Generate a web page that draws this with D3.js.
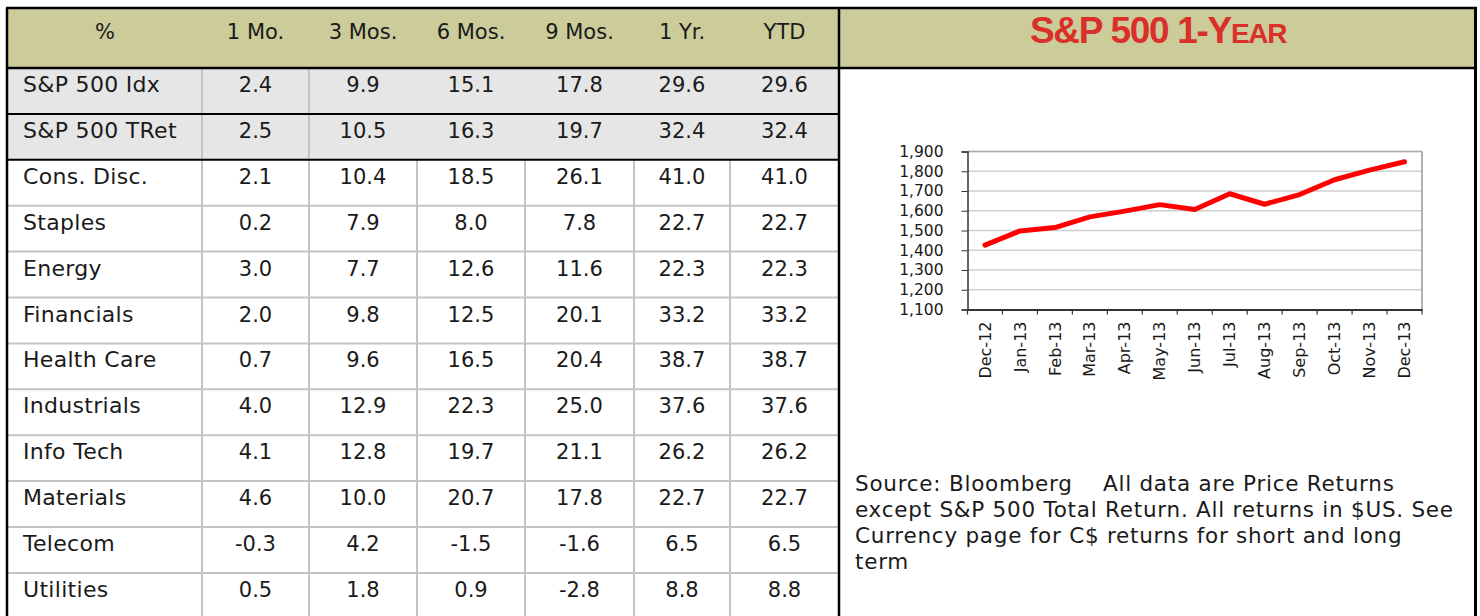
<!DOCTYPE html>
<html>
<head>
<meta charset="utf-8">
<script src="https://cdn.jsdelivr.net/npm/d3@7"></script>
<style>
  body { margin: 0; background: #fff; }
  svg text { font-family: "DejaVu Sans", Verdana, sans-serif; fill: #1a1a1a; }
</style>
</head>
<body>
<div id="viz"></div>
<script>
// table data
var columns = ["1 Mo.", "3 Mos.", "6 Mos.", "9 Mos.", "1 Yr.", "YTD"];
var sectors = ["S&P 500 Idx", "S&P 500 TRet", "Cons. Disc.", "Staples", "Energy", "Financials",
  "Health Care", "Industrials", "Info Tech", "Materials", "Telecom", "Utilities"];
var ret1Mo  = [2.4, 2.5, 2.1, 0.2, 3.0, 2.0, 0.7, 4.0, 4.1, 4.6, -0.3, 0.5];
var ret3Mos = [9.9, 10.5, 10.4, 7.9, 7.7, 9.8, 9.6, 12.9, 12.8, 10.0, 4.2, 1.8];
var ret6Mos = [15.1, 16.3, 18.5, 8.0, 12.6, 12.5, 16.5, 22.3, 19.7, 20.7, -1.5, 0.9];
var ret9Mos = [17.8, 19.7, 26.1, 7.8, 11.6, 20.1, 20.4, 25.0, 21.1, 17.8, -1.6, -2.8];
var ret1Yr  = [29.6, 32.4, 41.0, 22.7, 22.3, 33.2, 38.7, 37.6, 26.2, 22.7, 6.5, 8.8];
var retYTD  = [29.6, 32.4, 41.0, 22.7, 22.3, 33.2, 38.7, 37.6, 26.2, 22.7, 6.5, 8.8];

// chart data
var months = ["Dec-12", "Jan-13", "Feb-13", "Mar-13", "Apr-13", "May-13", "Jun-13",
  "Jul-13", "Aug-13", "Sep-13", "Oct-13", "Nov-13", "Dec-13"];
var spx = [1426, 1498, 1515, 1569, 1598, 1631, 1606, 1686, 1633, 1682, 1757, 1806, 1848];

var sourceLines = [
  "Source: Bloomberg    All data are Price Returns",
  "except S&P 500 Total Return. All returns in $US. See",
  "Currency page for C$ returns for short and long",
  "term"
];

var values = [ret1Mo, ret3Mos, ret6Mos, ret9Mos, ret1Yr, retYTD];

var width = 1480, height = 616;
var svg = d3.select("#viz").append("svg").attr("width", width).attr("height", height);

var colEdges = [8, 202, 309, 417, 525, 634, 730, 839];
var headTop = 8, headBottom = 68;
var gridColor = "#c3c3c3";

var row = d3.scaleBand()
    .domain(sectors)
    .range([headBottom, headBottom + 12 * 45.9]);

// header band
svg.append("rect")
    .attr("x", 8).attr("y", headTop)
    .attr("width", 1468).attr("height", headBottom - headTop)
    .attr("fill", "#cccc9a");

// gray rows for the index lines
svg.selectAll("rect.grey")
  .data(sectors.slice(0, 2))
  .enter().append("rect")
    .attr("class", "grey")
    .attr("x", colEdges[0])
    .attr("y", function(d) { return row(d); })
    .attr("width", colEdges[7] - colEdges[0])
    .attr("height", row.bandwidth())
    .attr("fill", "#e6e6e6");

// horizontal grid
svg.selectAll("line.hgrid")
  .data(sectors.slice(3))
  .enter().append("line")
    .attr("x1", colEdges[0]).attr("x2", colEdges[7])
    .attr("y1", function(d) { return row(d); })
    .attr("y2", function(d) { return row(d); })
    .attr("stroke", gridColor).attr("stroke-width", 2);

// vertical grid
colEdges.slice(1, 7).forEach(function(x, i) {
  var top = i < 2 ? headBottom : row(sectors[2]);
  svg.append("line")
      .attr("x1", x).attr("x2", x)
      .attr("y1", top).attr("y2", height)
      .attr("stroke", gridColor).attr("stroke-width", 2);
});

// black lines
[row(sectors[1]), row(sectors[2])].forEach(function(y) {
  svg.append("line")
      .attr("x1", colEdges[0]).attr("x2", colEdges[7])
      .attr("y1", y).attr("y2", y)
      .attr("stroke", "#000").attr("stroke-width", 2);
});
svg.append("line")
    .attr("x1", 7).attr("x2", 1476).attr("y1", headBottom).attr("y2", headBottom)
    .attr("stroke", "#000").attr("stroke-width", 2.5);
svg.append("line")
    .attr("x1", 6).attr("x2", 1477).attr("y1", headTop).attr("y2", headTop)
    .attr("stroke", "#000").attr("stroke-width", 2.5);
[7, colEdges[7], 1475.5].forEach(function(x) {
  svg.append("line")
      .attr("x1", x).attr("x2", x).attr("y1", headTop).attr("y2", height)
      .attr("stroke", "#000").attr("stroke-width", x > 1400 ? 3 : 2.5);
});

// header text
var headers = ["%"].concat(columns);
svg.selectAll("text.head")
  .data(headers)
  .enter().append("text")
    .attr("x", function(d, i) { return (colEdges[i] + colEdges[i + 1]) / 2; })
    .attr("y", 39)
    .attr("text-anchor", "middle")
    .style("font-size", "21px")
    .text(function(d) { return d; });

// row labels
svg.selectAll("text.label")
  .data(sectors)
  .enter().append("text")
    .attr("x", 23)
    .attr("y", function(d) { return row(d) + 24; })
    .style("font-size", "22px")
    .style("letter-spacing", "0.3px")
    .text(function(d) { return d; });

// values
values.forEach(function(col, c) {
  svg.selectAll("text.c" + c)
    .data(col)
    .enter().append("text")
      .attr("x", (colEdges[c + 1] + colEdges[c + 2]) / 2)
      .attr("y", function(d, i) { return row(sectors[i]) + 24; })
      .attr("text-anchor", "middle")
      .style("font-size", "21px")
      .text(function(d) { return d3.format(".1f")(d).replace("−", "-"); });
});

// title
var title = svg.append("text")
    .attr("x", 1158).attr("y", 43)
    .attr("text-anchor", "middle")
    .style("font-family", "'Liberation Sans', Arial, sans-serif")
    .style("font-weight", "bold")
    .style("letter-spacing", "-1.3px")
    .style("fill", "#d9302a");
title.append("tspan").style("font-size", "37px").text("S&P 500 1-Y");
title.append("tspan").style("font-size", "28px").text("EAR");

// line chart
var plot = { left: 967.5, right: 1422, top: 151.5, bottom: 309.5 };

var x = d3.scaleBand().domain(months).range([plot.left, plot.right]);
var y = d3.scaleLinear().domain([1100, 1900]).range([plot.bottom, plot.top]);

var g = svg.append("g");

g.selectAll("line.grid")
  .data(y.ticks(8).slice(1))
  .enter().append("line")
    .attr("x1", plot.left).attr("x2", plot.right)
    .attr("y1", function(d) { return y(d); })
    .attr("y2", function(d) { return y(d); })
    .attr("stroke", "#cfcfcf").attr("stroke-width", 1.5);

g.append("line")
    .attr("x1", plot.right).attr("x2", plot.right)
    .attr("y1", plot.top).attr("y2", plot.bottom)
    .attr("stroke", "#999").attr("stroke-width", 1.5);
g.append("line")
    .attr("x1", plot.left).attr("x2", plot.right)
    .attr("y1", plot.top).attr("y2", plot.top)
    .attr("stroke", "#aaa").attr("stroke-width", 1.5);

var yAxis = g.append("g")
    .attr("transform", "translate(" + plot.left + ",0)")
    .call(d3.axisLeft(y).ticks(8).tickSize(6).tickPadding(18).tickFormat(d3.format(",")));
yAxis.select(".domain").attr("stroke", "#333").attr("stroke-width", 1.5);
yAxis.selectAll(".tick line").attr("stroke", "#333");
yAxis.selectAll("text")
    .style("font-family", "'DejaVu Sans', Verdana, sans-serif")
    .style("font-size", "15.5px").attr("fill", "#1a1a1a");

var xAxis = g.append("g")
    .attr("transform", "translate(0," + plot.bottom + ")")
    .call(d3.axisBottom(x).tickSize(0).tickSizeOuter(0));
xAxis.select(".domain").attr("stroke", "#333").attr("stroke-width", 2);
xAxis.selectAll("text")
    .style("font-family", "'DejaVu Sans', Verdana, sans-serif")
    .style("font-size", "16px").attr("fill", "#1a1a1a")
    .attr("transform", "rotate(-90)")
    .attr("text-anchor", "end")
    .attr("x", -12).attr("y", 0).attr("dy", "0.35em");

// tick marks between categories
g.selectAll("line.xtick")
  .data(months.concat([null]))
  .enter().append("line")
    .attr("x1", function(d) { return d ? x(d) : plot.right; })
    .attr("x2", function(d) { return d ? x(d) : plot.right; })
    .attr("y1", plot.bottom).attr("y2", plot.bottom + 5)
    .attr("stroke", "#333").attr("stroke-width", 1.2);

var line = d3.line()
    .x(function(d, i) { return x(months[i]) + x.bandwidth() / 2; })
    .y(function(d) { return y(d); });

g.append("path")
    .datum(spx)
    .attr("d", line)
    .attr("fill", "none")
    .attr("stroke", "#ff0000")
    .attr("stroke-width", 5)
    .attr("stroke-linejoin", "round")
    .attr("stroke-linecap", "round");

// source note
svg.selectAll("text.source")
  .data(sourceLines)
  .enter().append("text")
    .attr("x", 855)
    .attr("y", function(d, i) { return 491 + i * 26; })
    .style("font-size", "21.5px")
    .style("letter-spacing", "0.75px")
    .style("white-space", "pre")
    .attr("xml:space", "preserve")
    .text(function(d) { return d; });
</script>
</body>
</html>
